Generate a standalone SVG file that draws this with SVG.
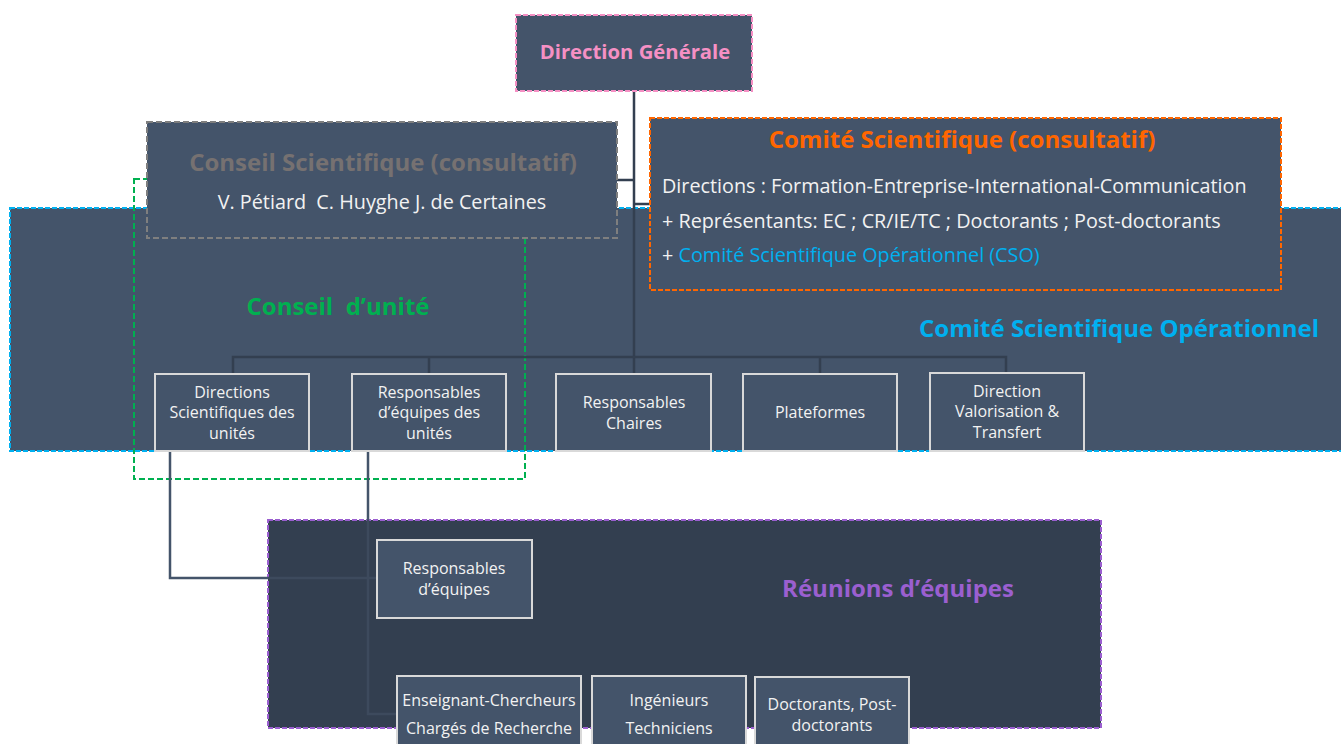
<svg xmlns="http://www.w3.org/2000/svg" width="1341" height="744" viewBox="0 0 1341 744">
<style>
text{font-family:"Open Sans","Noto Sans","Liberation Sans",sans-serif;}
.fill{fill:#44546A;}
.box{fill:#44546A;stroke:#D9D9D9;stroke-width:2;}
.bt{fill:#F2F2F2;font-size:16px;text-anchor:middle;}
.body{fill:#F2F2F2;font-size:19.8px;}
.ln{fill:none;stroke:#333F50;stroke-width:2.5;}
.ln2{fill:none;stroke:#44546A;stroke-width:2.5;}
.ln3{fill:none;stroke:#3D4A5D;stroke-width:2.5;}
.ttl{font-weight:bold;font-size:24px;text-anchor:middle;}
</style>
<rect width="1341" height="744" fill="#FFFFFF"/>

<g id="cso">
<rect x="10" y="208" width="1340" height="243" class="fill" stroke="#00B0F0" stroke-width="2" stroke-dasharray="5 2"/>
<text x="1119" y="337" class="ttl" fill="#00B0F0">Comité Scientifique Opérationnel</text>
</g>

<g id="conseil-unite">
<rect x="134" y="179" width="391" height="300" fill="none" stroke="#00B050" stroke-width="2" stroke-dasharray="6 3"/>
<text x="338" y="315" class="ttl" fill="#00B050" xml:space="preserve">Conseil  d’unité</text>
</g>

<g id="reunions">
<rect x="268" y="520" width="833" height="208" fill="#333F50" stroke="#9B5FD0" stroke-width="2" stroke-dasharray="5 2"/>
<text x="898" y="597" class="ttl" fill="#9B5FD0">Réunions d’équipes</text>
</g>

<g id="connectors">
<path class="ln" d="M634 91V374"/>
<path class="ln" d="M617 180H634M634 204H650"/>
<path class="ln" d="M233 374V357H1006V374M429 357V374M820 357V374"/>
<path class="ln2" d="M170 451V578H268M368 451V520"/>
<path class="ln3" d="M268 578H377M368 520V714H397"/>
</g>

<g id="direction-generale">
<rect x="516" y="15" width="236" height="76" class="fill" stroke="#F590C4" stroke-width="2" stroke-dasharray="5 2"/>
<text x="635" y="59" font-size="20.3" font-weight="bold" fill="#F590C4" text-anchor="middle">Direction Générale</text>
</g>

<g id="conseil-scientifique">
<rect x="147" y="122" width="470" height="116" class="fill" stroke="#7F7F7F" stroke-width="2" stroke-dasharray="6 3"/>
<text x="383" y="171" class="ttl" fill="#767171">Conseil Scientifique (consultatif)</text>
<text x="382" y="209" class="body" text-anchor="middle" xml:space="preserve">V. Pétiard  C. Huyghe J. de Certaines</text>
</g>

<g id="comite-scientifique">
<rect x="650" y="118" width="631" height="172" class="fill" stroke="#FF6600" stroke-width="2" stroke-dasharray="5 2"/>
<text x="962" y="148" class="ttl" fill="#FF6600">Comité Scientifique (consultatif)</text>
<text x="662" y="193" class="body">Directions : Formation-Entreprise-International-Communication</text>
<text x="662" y="228" class="body">+ Représentants: EC ; CR/IE/TC ; Doctorants ; Post-doctorants</text>
<text x="662" y="262" class="body">+ <tspan fill="#00B0F0">Comité Scientifique Opérationnel (CSO)</tspan></text>
</g>

<g id="n-directions-sci">
<rect x="155" y="374" width="154" height="77" class="box"/>
<text class="bt" x="232" y="398">Directions</text>
<text class="bt" x="232" y="418">Scientifiques des</text>
<text class="bt" x="232" y="439">unités</text>
</g>
<g id="n-resp-equipes-unites">
<rect x="352" y="374" width="154" height="77" class="box"/>
<text class="bt" x="429" y="398">Responsables</text>
<text class="bt" x="429" y="418">d’équipes des</text>
<text class="bt" x="429" y="439">unités</text>
</g>
<g id="n-resp-chaires">
<rect x="556" y="374" width="155" height="77" class="box"/>
<text class="bt" x="634" y="408">Responsables</text>
<text class="bt" x="634" y="429">Chaires</text>
</g>
<g id="n-plateformes">
<rect x="743" y="374" width="154" height="77" class="box"/>
<text class="bt" x="820" y="418">Plateformes</text>
</g>
<g id="n-valorisation">
<rect x="930" y="373" width="154" height="78" class="box"/>
<text class="bt" x="1007" y="397">Direction</text>
<text class="bt" x="1007" y="417">Valorisation &amp;</text>
<text class="bt" x="1007" y="438">Transfert</text>
</g>

<g id="n-resp-equipes">
<rect x="377" y="540" width="155" height="78" class="box"/>
<text class="bt" x="454" y="574">Responsables</text>
<text class="bt" x="454" y="595">d’équipes</text>
</g>
<g id="n-enseignants">
<rect x="397" y="676" width="184" height="80" class="box"/>
<text class="bt" x="489" y="706">Enseignant-Chercheurs</text>
<text class="bt" x="489" y="734">Chargés de Recherche</text>
</g>
<g id="n-ingenieurs">
<rect x="592" y="676" width="154" height="80" class="box"/>
<text class="bt" x="669" y="706">Ingénieurs</text>
<text class="bt" x="669" y="734">Techniciens</text>
</g>
<g id="n-doctorants">
<rect x="755" y="677" width="154" height="80" class="box"/>
<text class="bt" x="832" y="710">Doctorants, Post-</text>
<text class="bt" x="832" y="731">doctorants</text>
</g>
</svg>
